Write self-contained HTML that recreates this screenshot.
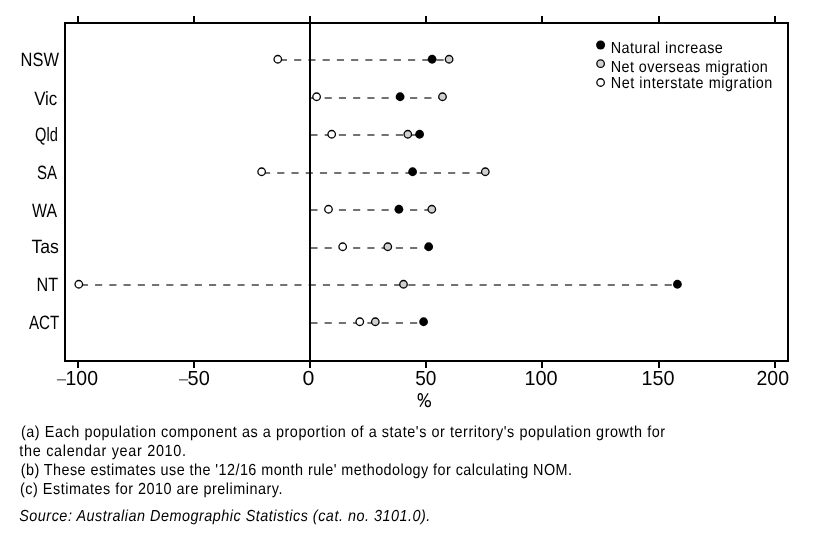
<!DOCTYPE html>
<html><head><meta charset="utf-8"><style>
html,body{margin:0;padding:0;background:#fff;}
svg{display:block;font-family:"Liberation Sans", sans-serif;fill:#000;will-change:transform;}
text{font-family:"Liberation Sans", sans-serif;text-rendering:geometricPrecision;}
</style></head><body>
<svg width="817" height="543" viewBox="0 0 817 543">
<rect x="0" y="0" width="817" height="543" fill="#fff"/>
<line x1="279.9" y1="60" x2="449.0" y2="60" stroke="#727272" stroke-width="2" stroke-dasharray="7.12 7.12"/>
<line x1="310.4" y1="98" x2="442.5" y2="98" stroke="#727272" stroke-width="2" stroke-dasharray="7.12 7.12"/>
<line x1="310.4" y1="135" x2="419.6" y2="135" stroke="#727272" stroke-width="2" stroke-dasharray="7.12 7.12"/>
<line x1="263.0" y1="173" x2="485.3" y2="173" stroke="#727272" stroke-width="2" stroke-dasharray="7.12 7.12"/>
<line x1="310.4" y1="210" x2="431.8" y2="210" stroke="#727272" stroke-width="2" stroke-dasharray="7.12 7.12"/>
<line x1="310.4" y1="248" x2="428.7" y2="248" stroke="#727272" stroke-width="2" stroke-dasharray="7.12 7.12"/>
<line x1="80.84" y1="285" x2="677.4" y2="285" stroke="#727272" stroke-width="2" stroke-dasharray="7.12 7.12"/>
<line x1="310.4" y1="323" x2="423.6" y2="323" stroke="#727272" stroke-width="2" stroke-dasharray="7.12 7.12"/>
<rect x="65" y="23" width="723" height="338" fill="none" stroke="#000" stroke-width="2"/>
<line x1="78" y1="16" x2="78" y2="23" stroke="#000" stroke-width="2"/>
<line x1="78" y1="361" x2="78" y2="368" stroke="#000" stroke-width="2"/>
<line x1="194" y1="16" x2="194" y2="23" stroke="#000" stroke-width="2"/>
<line x1="194" y1="361" x2="194" y2="368" stroke="#000" stroke-width="2"/>
<line x1="310" y1="16" x2="310" y2="23" stroke="#000" stroke-width="2"/>
<line x1="310" y1="361" x2="310" y2="368" stroke="#000" stroke-width="2"/>
<line x1="426" y1="16" x2="426" y2="23" stroke="#000" stroke-width="2"/>
<line x1="426" y1="361" x2="426" y2="368" stroke="#000" stroke-width="2"/>
<line x1="542" y1="16" x2="542" y2="23" stroke="#000" stroke-width="2"/>
<line x1="542" y1="361" x2="542" y2="368" stroke="#000" stroke-width="2"/>
<line x1="659" y1="16" x2="659" y2="23" stroke="#000" stroke-width="2"/>
<line x1="659" y1="361" x2="659" y2="368" stroke="#000" stroke-width="2"/>
<line x1="775" y1="16" x2="775" y2="23" stroke="#000" stroke-width="2"/>
<line x1="775" y1="361" x2="775" y2="368" stroke="#000" stroke-width="2"/>
<line x1="310" y1="16" x2="310" y2="368" stroke="#000" stroke-width="2"/>
<circle cx="277.8" cy="59.25" r="3.75" fill="#fff" stroke="#000" stroke-width="1.3"/>
<circle cx="432.1" cy="59.25" r="4.4" fill="#000"/>
<circle cx="449.1" cy="59.25" r="3.75" fill="#d0d0d0" stroke="#000" stroke-width="1.3"/>
<circle cx="316.6" cy="96.75" r="3.75" fill="#fff" stroke="#000" stroke-width="1.3"/>
<circle cx="400.1" cy="96.75" r="4.4" fill="#000"/>
<circle cx="442.5" cy="96.75" r="3.75" fill="#d0d0d0" stroke="#000" stroke-width="1.3"/>
<circle cx="331.7" cy="134.25" r="3.75" fill="#fff" stroke="#000" stroke-width="1.3"/>
<circle cx="407.8" cy="134.25" r="3.75" fill="#d0d0d0" stroke="#000" stroke-width="1.3"/>
<circle cx="419.6" cy="134.25" r="4.4" fill="#000"/>
<circle cx="261.65" cy="171.75" r="3.75" fill="#fff" stroke="#000" stroke-width="1.3"/>
<circle cx="412.6" cy="171.75" r="4.4" fill="#000"/>
<circle cx="485.3" cy="171.75" r="3.75" fill="#d0d0d0" stroke="#000" stroke-width="1.3"/>
<circle cx="328.5" cy="209.25" r="3.75" fill="#fff" stroke="#000" stroke-width="1.3"/>
<circle cx="398.9" cy="209.25" r="4.4" fill="#000"/>
<circle cx="431.8" cy="209.25" r="3.75" fill="#d0d0d0" stroke="#000" stroke-width="1.3"/>
<circle cx="342.7" cy="246.75" r="3.75" fill="#fff" stroke="#000" stroke-width="1.3"/>
<circle cx="387.8" cy="246.75" r="3.75" fill="#d0d0d0" stroke="#000" stroke-width="1.3"/>
<circle cx="428.7" cy="246.75" r="4.4" fill="#000"/>
<circle cx="78.8" cy="284.25" r="3.75" fill="#fff" stroke="#000" stroke-width="1.3"/>
<circle cx="403.5" cy="284.25" r="3.75" fill="#d0d0d0" stroke="#000" stroke-width="1.3"/>
<circle cx="677.4" cy="284.25" r="4.4" fill="#000"/>
<circle cx="359.8" cy="321.75" r="3.75" fill="#fff" stroke="#000" stroke-width="1.3"/>
<circle cx="375.3" cy="321.75" r="3.75" fill="#d0d0d0" stroke="#000" stroke-width="1.3"/>
<circle cx="423.6" cy="321.75" r="4.4" fill="#000"/>
<text transform="translate(20.55,65.8) scale(0.8532,1)" font-size="19.3" >NSW</text>
<text transform="translate(34.13,104.6) scale(0.8771,1)" font-size="19.3" >Vic</text>
<text transform="translate(35.11,140.7) scale(0.7602,1)" font-size="19.3" >Qld</text>
<text transform="translate(36.97,178.7) scale(0.7790,1)" font-size="19.3" >SA</text>
<text transform="translate(32.04,216.7) scale(0.8228,1)" font-size="19.3" >WA</text>
<text transform="translate(31.51,252.8) scale(0.9131,1)" font-size="19.3" >Tas</text>
<text transform="translate(36.57,290.8) scale(0.8418,1)" font-size="19.3" >NT</text>
<text transform="translate(28.97,328.8) scale(0.7844,1)" font-size="19.3" >ACT</text>
<text transform="translate(65.52,384.6) scale(0.9532,1)" font-size="20.4">100</text>
<text transform="translate(187.60,384.6) scale(0.9775,1)" font-size="20.4">50</text>
<text transform="translate(302.47,384.6) scale(1.0460,1)" font-size="20.4">0</text>
<text transform="translate(415.14,384.6) scale(0.9348,1)" font-size="20.4">50</text>
<text transform="translate(524.39,384.6) scale(0.9753,1)" font-size="20.4">100</text>
<text transform="translate(641.39,384.6) scale(0.9722,1)" font-size="20.4">150</text>
<text transform="translate(756.52,384.6) scale(0.9562,1)" font-size="20.4">200</text>
<rect x="57.0" y="379.3" width="9" height="1.1" fill="#444"/>
<rect x="179.0" y="379.3" width="9" height="1.1" fill="#444"/>
<g fill="none" stroke="#000" stroke-width="1.25"><ellipse cx="420.3" cy="396.9" rx="2.1" ry="3.2"/><ellipse cx="427.9" cy="403.6" rx="2.5" ry="3.1"/><line x1="428.1" y1="393.3" x2="419.9" y2="406.8"/></g>
<circle cx="600.6" cy="45.0" r="4.5" fill="#000"/>
<circle cx="600.6" cy="63.7" r="3.75" fill="#d0d0d0" stroke="#000" stroke-width="1.3"/>
<circle cx="600.6" cy="82.5" r="3.75" fill="#fff" stroke="#000" stroke-width="1.3"/>
<text transform="translate(610.72,52.5) scale(0.9,1)" font-size="16.0" textLength="124.6" lengthAdjust="spacing" >Natural increase</text>
<text transform="translate(610.72,71.6) scale(0.9,1)" font-size="16.0" textLength="174.6" lengthAdjust="spacing" >Net overseas migration</text>
<text transform="translate(610.72,88.2) scale(0.9,1)" font-size="16.0" textLength="179.6" lengthAdjust="spacing" >Net interstate migration</text>
<text transform="translate(20.94,436.6) scale(0.9,1)" font-size="16.0" textLength="715.8" lengthAdjust="spacing" >(a) Each population component as a proportion of a state's or territory's population growth for</text>
<text transform="translate(19.34,455.9) scale(0.9,1)" font-size="16.0" textLength="185.2" lengthAdjust="spacing" >the calendar year 2010.</text>
<text transform="translate(20.74,474.6) scale(0.9,1)" font-size="16.0" textLength="612.5" lengthAdjust="spacing" >(b) These estimates use the '12/16 month rule' methodology for calculating NOM.</text>
<text transform="translate(20.04,493.6) scale(0.9,1)" font-size="16.0" textLength="291.5" lengthAdjust="spacing" >(c) Estimates for 2010 are preliminary.</text>
<text transform="translate(19.24,521.2) scale(0.9,1)" font-size="16.0" font-style="italic" textLength="456.8" lengthAdjust="spacing" >Source: Australian Demographic Statistics (cat. no. 3101.0).</text>
</svg>
</body></html>
